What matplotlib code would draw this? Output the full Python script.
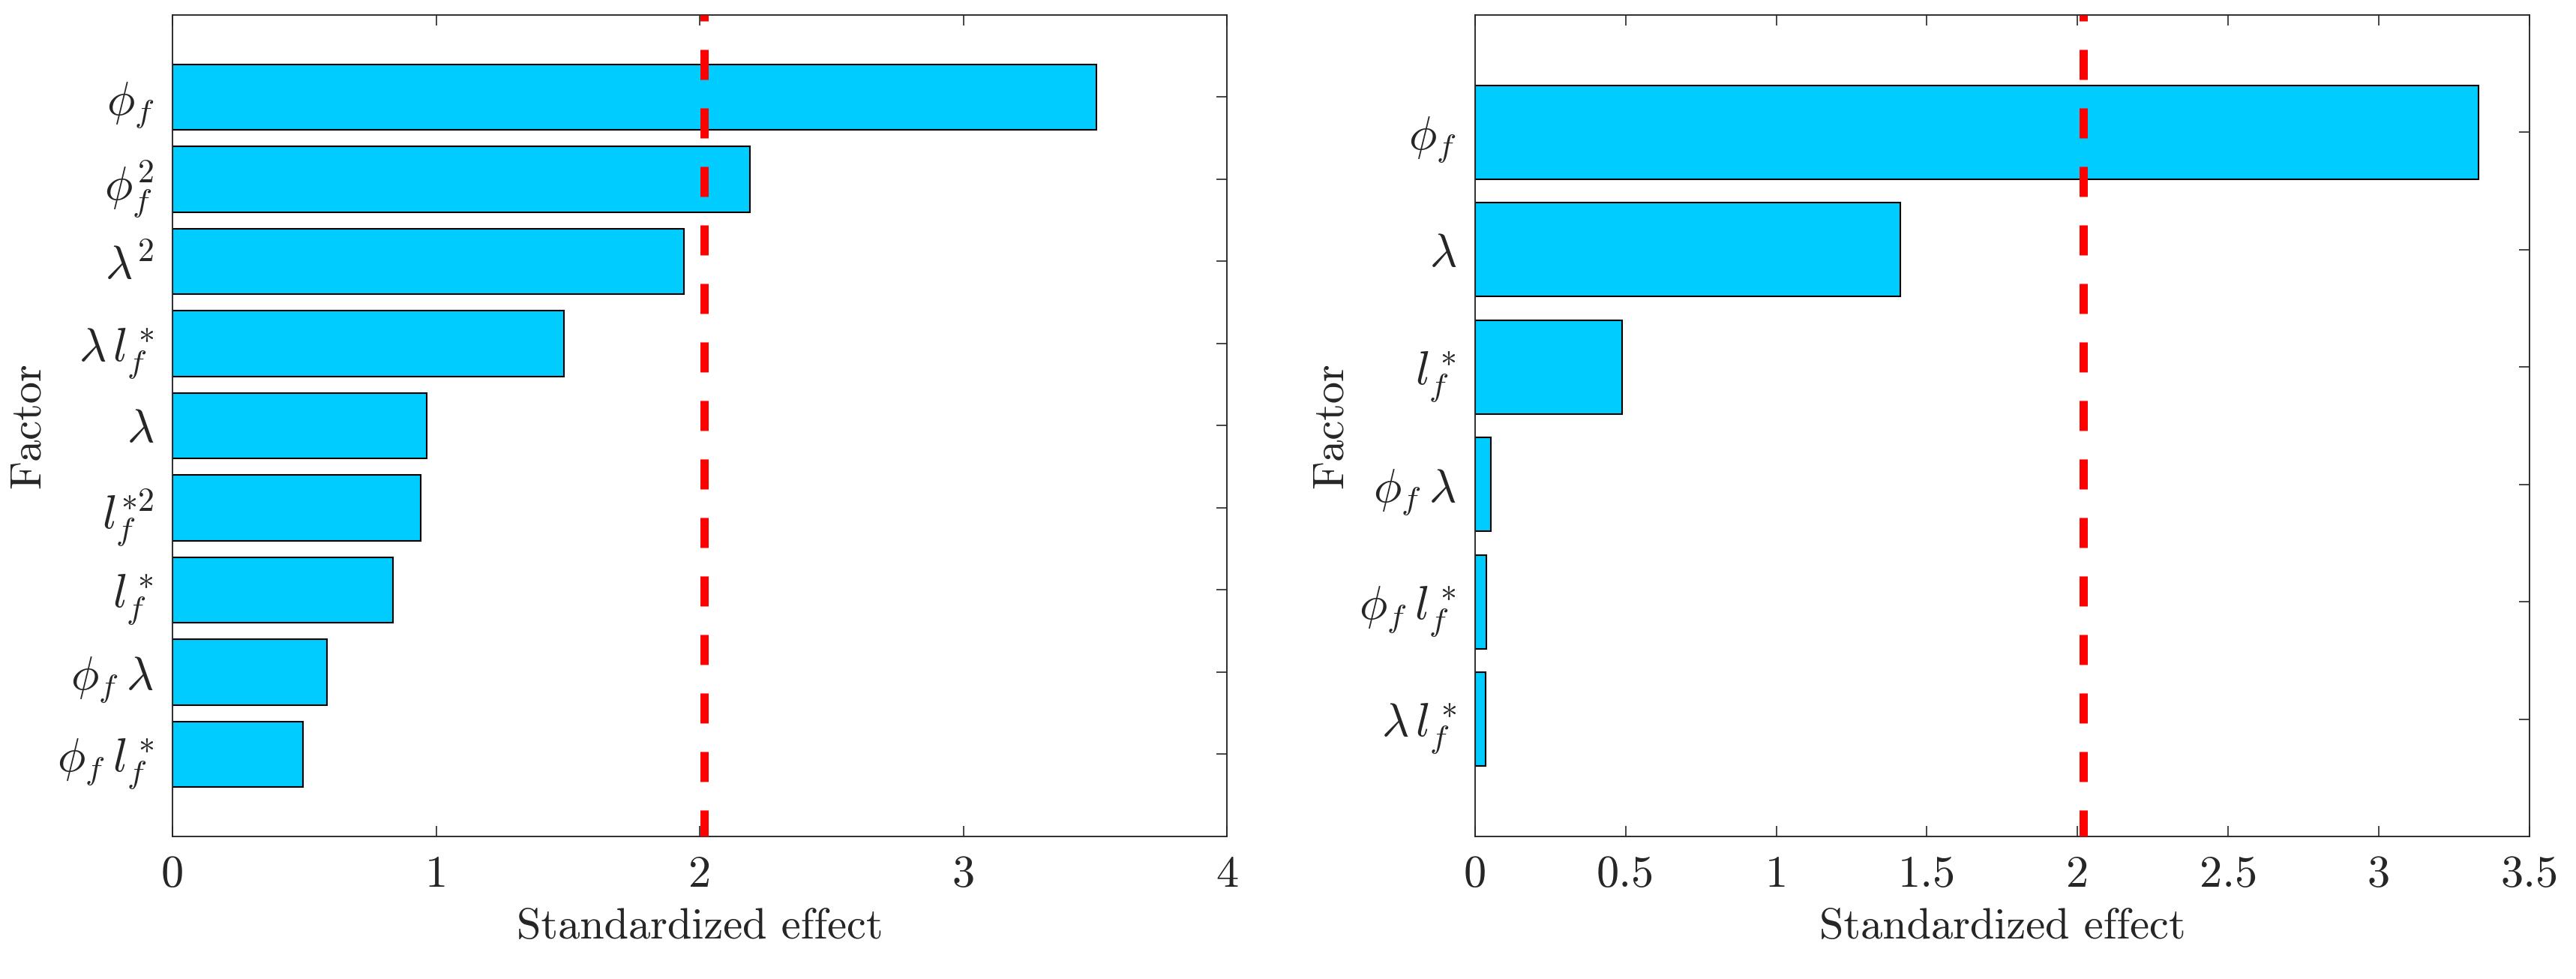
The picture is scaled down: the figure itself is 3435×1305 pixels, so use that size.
import numpy as np
import matplotlib
matplotlib.use("Agg")
import matplotlib.pyplot as plt

plt.rcParams['font.family'] = 'serif'
plt.rcParams['font.serif'] = ['cmr10']
plt.rcParams['mathtext.fontset'] = 'cm'
plt.rcParams['axes.unicode_minus'] = False
plt.rcParams['axes.formatter.use_mathtext'] = True

# Left panel: full quadratic model
left_factors = [r'$\phi_f$', r'$\phi_f^2$', r'$\lambda^2$', r'$\lambda\, l_f^*$', r'$\lambda$',
                r'$l_f^{*2}$', r'$l_f^*$', r'$\phi_f\:\lambda$', r'$\phi_f\: l_f^*$']
left_effects = [3.505, 2.19, 1.94, 1.485, 0.963, 0.94, 0.835, 0.585, 0.495]
left_xticks = [0, 1, 2, 3, 4]
left_xlim = (0, 4)

# Right panel: linear + interaction model
right_factors = [r'$\phi_f$', r'$\lambda$', r'$l_f^*$', r'$\phi_f\:\lambda$',
                 r'$\phi_f\: l_f^*$', r'$\lambda\, l_f^*$']
right_effects = [3.33, 1.413, 0.487, 0.052, 0.038, 0.035]
right_xticks = [0, 0.5, 1, 1.5, 2, 2.5, 3, 3.5]
right_xlim = (0, 3.5)

t_crit = 2.018

text_col = '#262626'
bar_col = (0, 0.8, 1)

fig = plt.figure(figsize=(11.45, 4.35), dpi=300)
ax1 = fig.add_axes([0.0670, 0.1456, 0.4093, 0.8391])
ax2 = fig.add_axes([0.5726, 0.1456, 0.4093, 0.8391])

panels = [(ax1, left_factors, left_effects, left_xticks, left_xlim),
          (ax2, right_factors, right_effects, right_xticks, right_xlim)]

for ax, factors, effects, xticks, xlim in panels:
    n = len(factors)
    pos = np.arange(1, n + 1)
    ax.barh(pos, effects, height=0.8, color=bar_col, edgecolor='black', linewidth=0.5, zorder=2)
    ax.plot([t_crit, t_crit], [0, n + 1], color='red', lw=2.64,
            linestyle=(2.91, (3.64, 3.45)), zorder=3, dash_capstyle='butt')
    ax.set_ylim(n + 1, 0)
    ax.set_xlim(*xlim)
    ax.set_yticks(pos)
    ax.set_yticklabels(factors, fontsize=15)
    ax.set_xticks(xticks)
    ax.set_xticklabels([('%g' % v) for v in xticks], fontsize=14.5)
    ax.tick_params(direction='in', length=3.4, width=0.4, top=True, right=True,
                   colors=text_col, pad=6)
    for s in ax.spines.values():
        s.set_linewidth(0.45)
        s.set_color(text_col)
    ax.set_xlabel('Standardized effect', fontsize=14, color=text_col, labelpad=4)
    ax.set_ylabel('Factor', fontsize=14, color=text_col)
    ax.yaxis.set_label_coords(-0.118, 0.5)

fig.savefig('out.png', dpi=300)
